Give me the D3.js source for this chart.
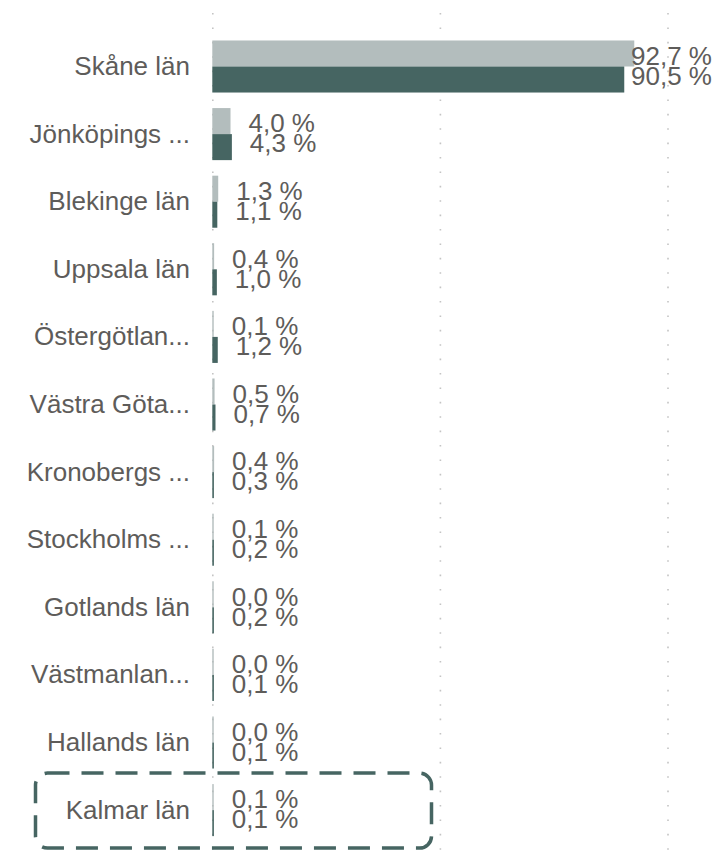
<!DOCTYPE html>
<html>
<head>
<meta charset="utf-8">
<script src="https://cdn.jsdelivr.net/npm/d3@7"></script>
<style>
  html, body { margin: 0; padding: 0; background: #fff; }
  svg { display: block; }
</style>
</head>
<body>
<svg id="chart" width="715" height="851"></svg>
<script>
// ---- data ----
const categories = ["Skåne län", "Jönköpings ...", "Blekinge län", "Uppsala län", "Östergötlan...",
  "Västra Göta...", "Kronobergs ...", "Stockholms ...", "Gotlands län", "Västmanlan...",
  "Hallands län", "Kalmar län"];
const seriesA = [92.7, 4.0, 1.3, 0.4, 0.1, 0.5, 0.4, 0.1, 0.0, 0.0, 0.0, 0.1];
const seriesB = [90.5, 4.3, 1.1, 1.0, 1.2, 0.7, 0.3, 0.2, 0.2, 0.1, 0.1, 0.1];
const xTicks = [0, 50, 100];
const highlighted = "Kalmar län";

const colorA = "#B3BDBD";
const colorB = "#466562";
const textColor = "#5E5C5A";

const svg = d3.select("#chart");
const W = 715, H = 851;

const x = d3.scaleLinear().domain([0, 100]).range([212.3, 667.5]);
const y = d3.scaleBand().domain(categories).range([32.7, 32.7 + 67.6 * categories.length]).paddingInner(0.23).paddingOuter(0.115);
const barH = y.bandwidth() / 2;

// gridlines (dotted)
svg.append("g").selectAll("line").data(xTicks).join("line")
  .attr("x1", d => x(d) + 0.5).attr("x2", d => x(d) + 0.5)
  .attr("y1", 13).attr("y2", H)
  .attr("stroke", "#C4C4C4").attr("stroke-width", 1.6)
  .attr("stroke-dasharray", "1.6,12.8");

const rows = categories.map((c, i) => ({ c, a: seriesA[i], b: seriesB[i] }));

const g = svg.append("g");
// bars
g.selectAll("rect.a").data(rows).join("rect").attr("class", "a")
  .attr("x", x(0)).attr("y", d => y(d.c))
  .attr("width", d => Math.max(x(d.a) - x(0), 1.4)).attr("height", barH)
  .attr("fill", colorA);
g.selectAll("rect.b").data(rows).join("rect").attr("class", "b")
  .attr("x", x(0)).attr("y", d => y(d.c) + barH)
  .attr("width", d => Math.max(x(d.b) - x(0), 1.6)).attr("height", barH)
  .attr("fill", colorB);

// category labels
const fmt = v => d3.format(".1f")(v).replace(".", ",") + " %";
svg.append("g").selectAll("text").data(rows).join("text")
  .attr("x", 190).attr("y", d => y(d.c) + y.bandwidth() / 2 + 8.5)
  .attr("text-anchor", "end")
  .attr("font-family", "'Liberation Sans', Arial, sans-serif")
  .attr("font-size", 26)
  .attr("fill", textColor)
  .text(d => d.c);

// value labels
const vl = svg.append("g");
function addLabel(v, cy) {
  const t = vl.append("text")
    .attr("y", cy + 9.3)
    .attr("font-family", "'Liberation Sans', Arial, sans-serif")
    .attr("font-size", 26)
    .attr("fill", textColor)
    .text(fmt(v));
  const w = t.node().getComputedTextLength();
  let tx = x(0) + Math.max(x(v) - x(0), 1.5) + 18;
  if (tx + w > 712) tx = 712 - w;
  t.attr("x", tx);
}
rows.forEach(d => {
  const cy = y(d.c) + y.bandwidth() / 2;
  addLabel(d.a, cy - 11);
  addLabel(d.b, cy + 9);
});

// highlight box
const hy = y(highlighted) + y.bandwidth() / 2;
svg.append("rect")
  .attr("x", 35.5).attr("y", hy - 37)
  .attr("width", 396).attr("height", 75)
  .attr("rx", 12).attr("ry", 12)
  .attr("fill", "none")
  .attr("stroke", colorB).attr("stroke-width", 3.5)
  .attr("stroke-dasharray", "22,12");
</script>
</body>
</html>
